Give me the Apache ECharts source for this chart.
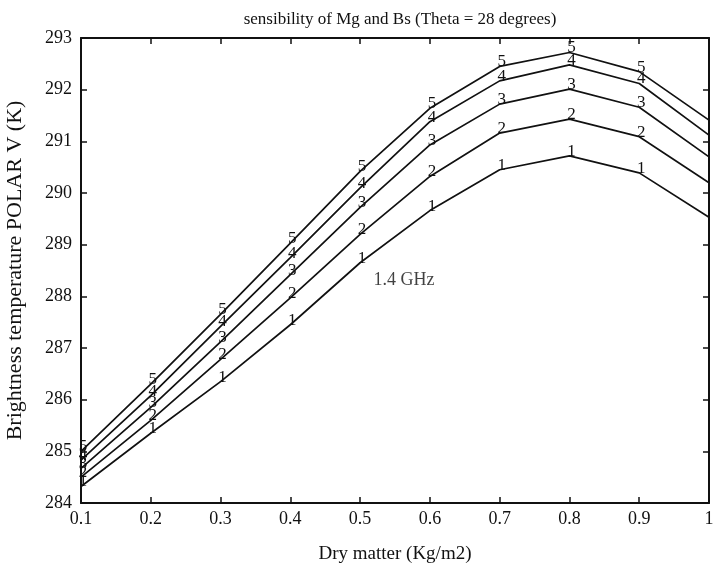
<!DOCTYPE html>
<html>
<head>
<meta charset="utf-8">
<script src="https://cdn.jsdelivr.net/npm/echarts@6/dist/echarts.min.js"></script>
<style>
html,body{margin:0;padding:0;background:#fff;}
#chart{width:713px;height:574px;}
</style>
</head>
<body>
<div id="chart"></div>
<script>
const dryMatter = [0.1, 0.2, 0.3, 0.4, 0.5, 0.6, 0.7, 0.8, 0.9, 1.0];
const curve1 = [284.32, 285.35, 286.35, 287.45, 288.65, 289.66, 290.45, 290.72, 290.39, 289.53];
const curve2 = [284.50, 285.60, 286.78, 287.97, 289.20, 290.32, 291.16, 291.43, 291.09, 290.20];
const curve3 = [284.67, 285.85, 287.12, 288.42, 289.72, 290.93, 291.72, 292.01, 291.66, 290.70];
const curve4 = [284.83, 286.08, 287.42, 288.75, 290.10, 291.38, 292.17, 292.48, 292.12, 291.12];
const curve5 = [285.00, 286.30, 287.65, 289.03, 290.42, 291.64, 292.45, 292.72, 292.35, 291.41];
const curveNames = ['1', '2', '3', '4', '5'];
const yTicks = [284, 285, 286, 287, 288, 289, 290, 291, 292, 293];
const titleText = 'sensibility of Mg and Bs (Theta = 28 degrees)';
const xTitle = 'Dry matter (Kg/m2)';
const yTitle = 'Brightness temperature POLAR V (K)';
const noteText = '1.4 GHz';
const notePos = [0.563, 288.32];

const FONT = '"Liberation Serif", "DejaVu Serif", serif';
const INK = '#111';
const curves = [curve1, curve2, curve3, curve4, curve5];

const chart = echarts.init(document.getElementById('chart'), null, {renderer: 'canvas'});

const series = curves.map((c, i) => ({
  type: 'line',
  name: curveNames[i],
  data: dryMatter.map((x, j) => [x, c[j]]),
  symbol: 'circle',
  symbolSize: 0,
  showSymbol: true,
  lineStyle: {color: INK, width: 1.7},
  itemStyle: {color: INK},
  animation: false,
  z: 3,
  label: {
    show: true,
    position: 'top',
    distance: 0,
    offset: [2, 4],
    color: INK,
    fontFamily: FONT,
    fontSize: 17,
    formatter: (p) => (p.dataIndex < dryMatter.length - 1 ? curveNames[i] : '')
  },
  emphasis: {disabled: true}
}));

series.push({
  type: 'scatter',
  data: [notePos],
  symbolSize: 0,
  animation: false,
  label: {
    show: true,
    position: 'inside',
    formatter: noteText,
    color: INK,
    fontFamily: FONT,
    fontSize: 18
  },
  emphasis: {disabled: true}
});

const axisCommon = {
  axisLine: {show: true, onZero: false, lineStyle: {color: INK, width: 2}},
  axisTick: {show: true, inside: true, length: 6, lineStyle: {color: INK, width: 1.5}},
  splitLine: {show: false}
};

chart.setOption({
  backgroundColor: '#fff',
  animation: false,
  title: {
    text: titleText,
    left: 395,
    textAlign: 'center',
    top: 6,
    textStyle: {fontFamily: FONT, fontSize: 17, fontWeight: 'normal', color: INK}
  },
  grid: {left: 81, right: 4, top: 38, bottom: 71, containLabel: false, outerBoundsMode: 'none'},
  xAxis: [
    Object.assign({
      type: 'value', min: 0.1, max: 1.0, interval: 0.1, position: 'bottom',
      name: xTitle, nameLocation: 'middle', nameGap: 42,
      nameTextStyle: {fontFamily: FONT, fontSize: 19, color: INK},
      axisLabel: {
        color: INK, fontFamily: FONT, fontSize: 18, margin: 7,
        formatter: (v) => String(+v.toFixed(1))
      }
    }, axisCommon),
    Object.assign({
      type: 'value', min: 0.1, max: 1.0, interval: 0.1, position: 'top',
      axisLabel: {show: false}
    }, axisCommon)
  ],
  yAxis: [
    Object.assign({
      type: 'value', min: yTicks[0], max: yTicks[yTicks.length - 1], interval: 1, position: 'left',
      name: yTitle, nameLocation: 'middle', nameGap: 55, nameRotate: 90,
      nameTextStyle: {fontFamily: FONT, fontSize: 22, color: INK},
      axisLabel: {color: INK, fontFamily: FONT, fontSize: 18, margin: 9}
    }, axisCommon),
    Object.assign({
      type: 'value', min: yTicks[0], max: yTicks[yTicks.length - 1], interval: 1, position: 'right',
      axisLabel: {show: false}
    }, axisCommon)
  ],
  series: series
});
</script>
</body>
</html>
